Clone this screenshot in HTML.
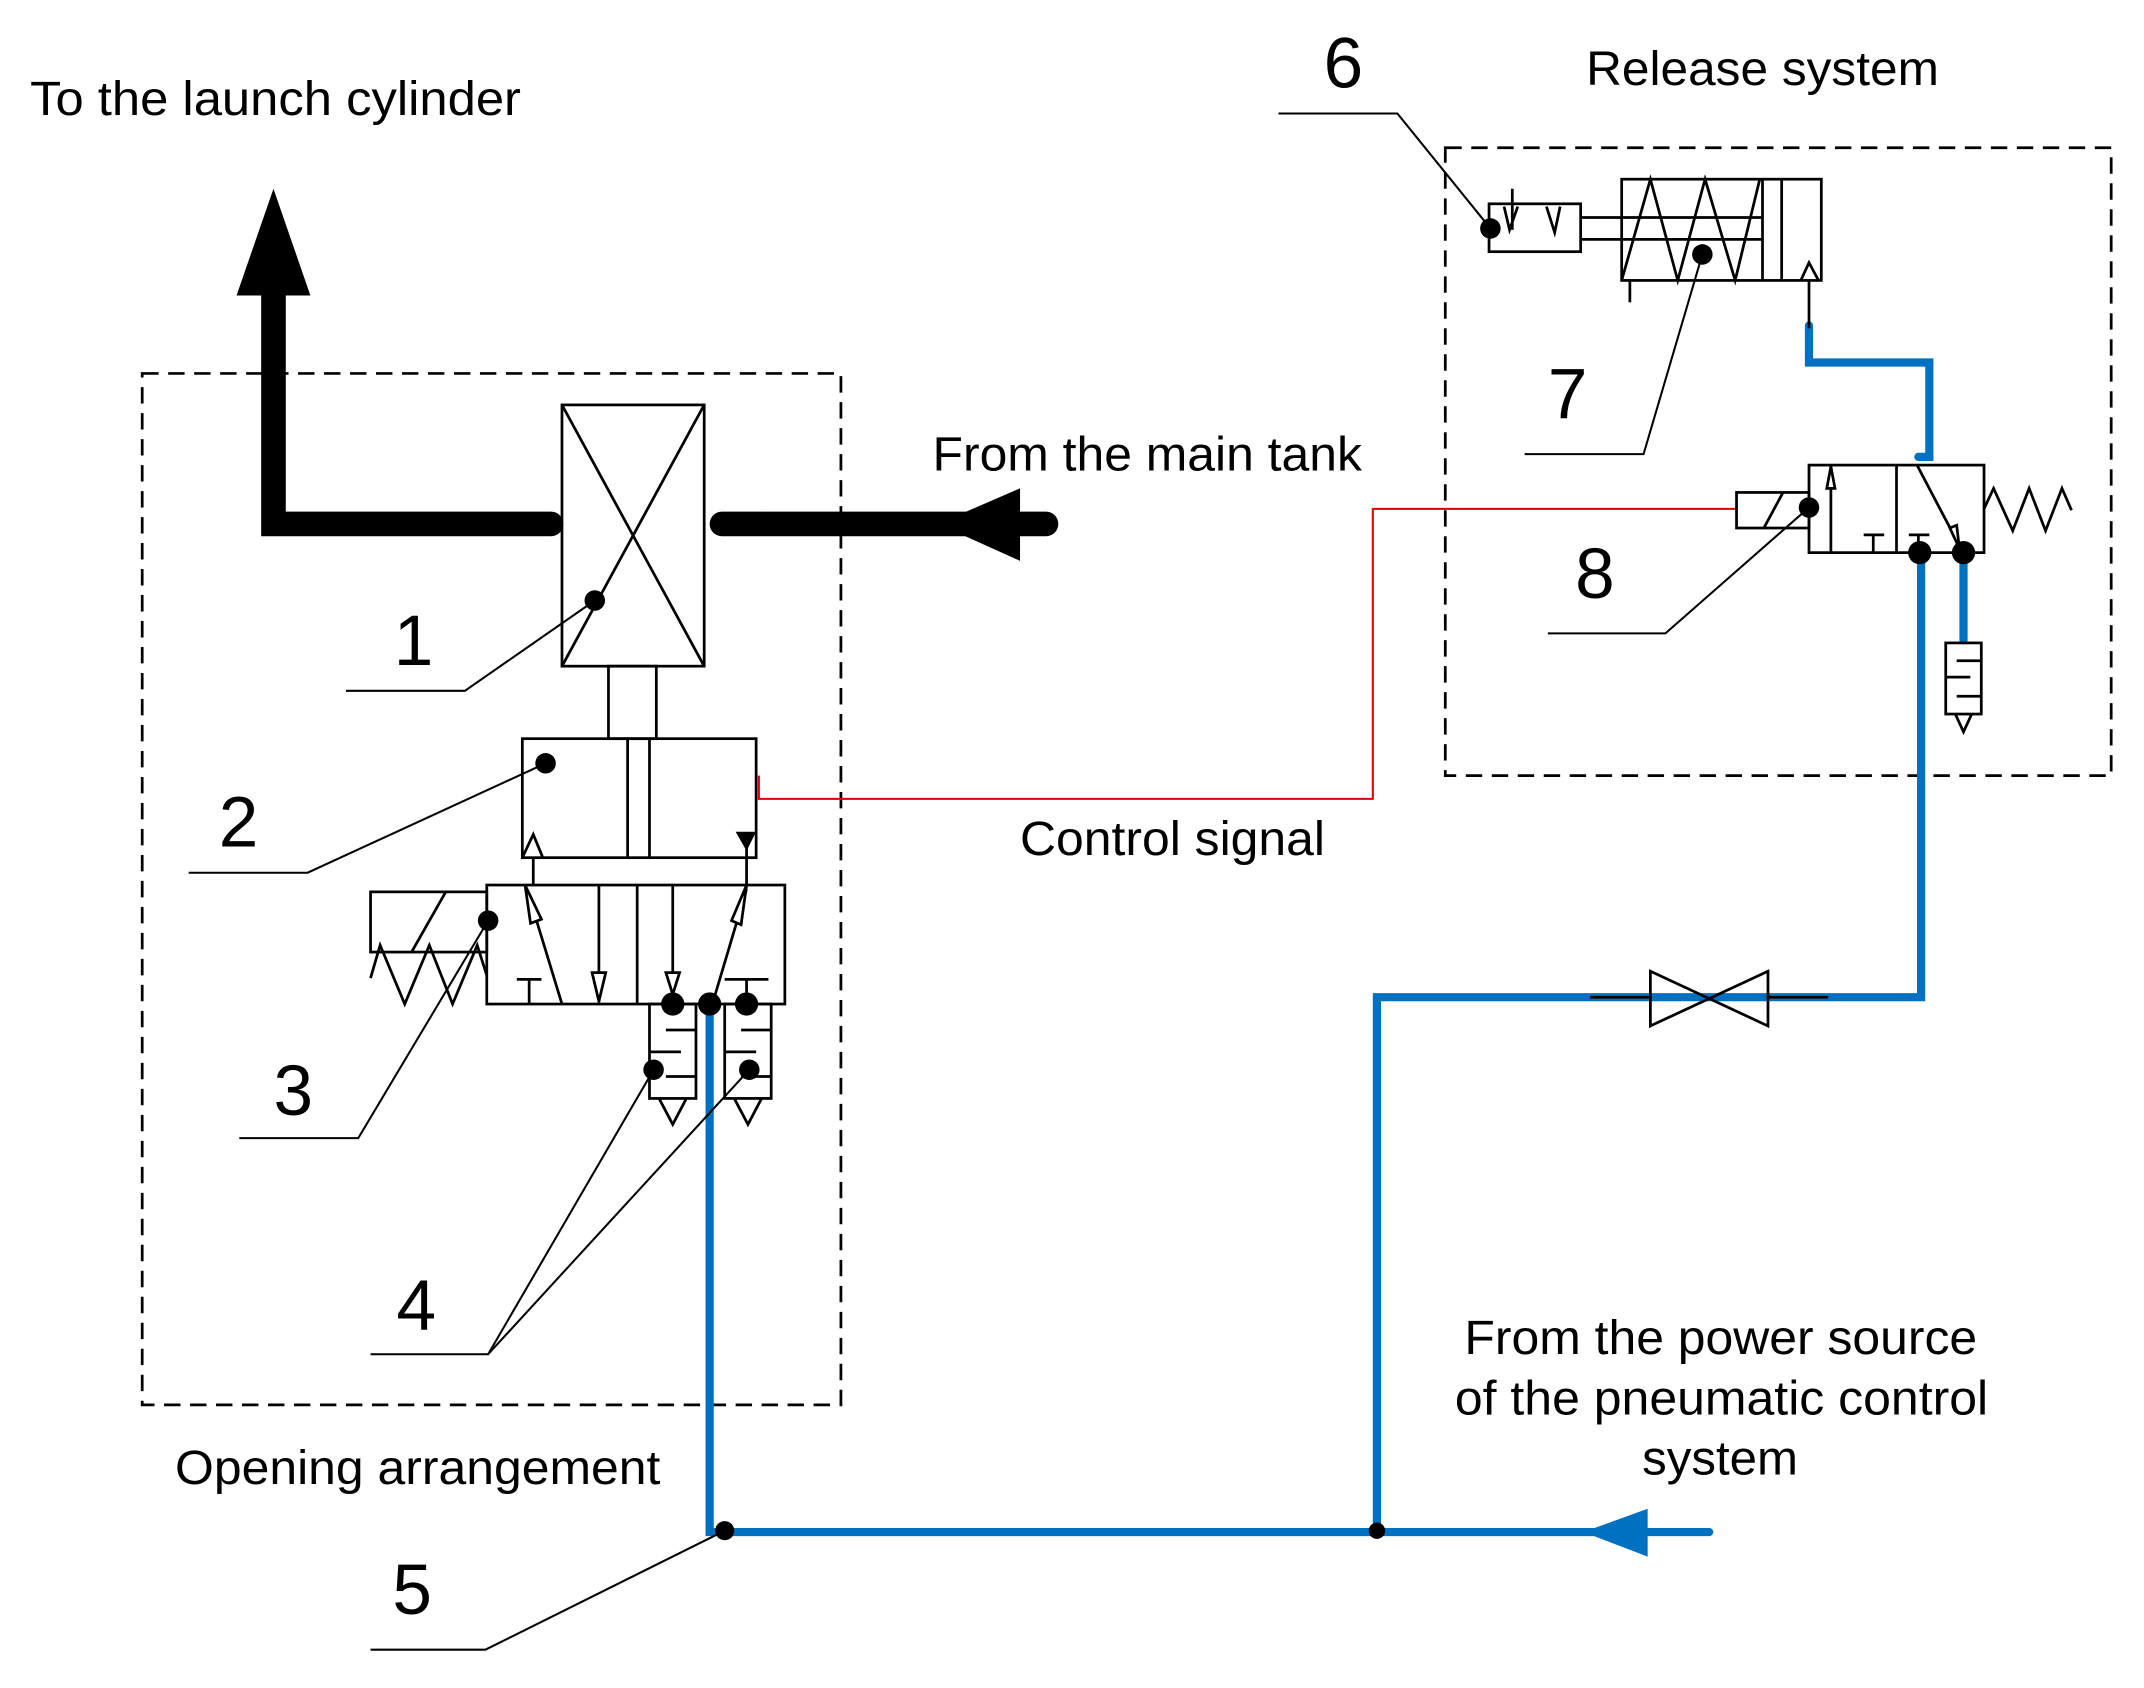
<!DOCTYPE html>
<html><head><style>html,body{margin:0;padding:0;background:#fff}svg{display:block}text{font-family:"Liberation Sans",Arial,sans-serif;fill:#000}</style></head>
<body>
<svg width="2144" height="1688" viewBox="0 0 1568 1234" preserveAspectRatio="none" xmlns="http://www.w3.org/2000/svg">
<g fill="none" stroke="#000" stroke-width="2">
<rect x="104" y="273" width="511" height="754" stroke-dasharray="12,7"/>
<rect x="1057" y="108" width="487" height="459" stroke-dasharray="12,7"/>
</g>
<g stroke="#000" stroke-width="18" stroke-linecap="round" fill="none">
<polyline points="200,205 200,383 403,383"/>
<line x1="528" y1="383" x2="765" y2="383"/>
</g>
<polygon points="200,138 173,216 227,216" fill="#000"/>
<polygon points="686,383 746,357 746,410" fill="#000"/>
<polyline points="555,567 555,584 1004,584 1004,372 1270,372" fill="none" stroke="#e00000" stroke-width="1.5"/>
<g stroke="#0070c0" stroke-width="6" fill="none" stroke-linecap="round">
<polyline points="519,740 519,1120 1250,1120"/>
<polyline points="1007,1120 1007,729 1405,729 1405,404"/>
<polyline points="1323,238 1323,265 1411,265 1411,334 1403,334"/>
<polyline points="1436,404 1436,468"/>
</g>
<polygon points="1158,1120 1205,1103 1205,1138" fill="#0070c0"/>
<g fill="none" stroke="#000" stroke-width="2">
<!-- 1 -->
<rect x="411" y="296" width="104" height="191"/>
<line x1="411" y1="296" x2="515" y2="487"/><line x1="515" y1="296" x2="411" y2="487"/>
<rect x="445" y="487" width="35" height="53"/>
<!-- 2 -->
<rect x="382" y="540" width="171" height="87"/>
<line x1="459" y1="540" x2="459" y2="627"/><line x1="475" y1="540" x2="475" y2="627"/>
<polyline points="382,627 390,610 397,627"/>
<line x1="390" y1="627" x2="390" y2="647"/><line x1="546" y1="620" x2="546" y2="647"/>
<!-- 3 -->
<rect x="356" y="647" width="218" height="87"/>
<line x1="466" y1="647" x2="466" y2="734"/>
<rect x="271" y="652" width="85" height="44"/>
<line x1="301" y1="696" x2="326" y2="652"/>
<polyline points="271,715 278,691 296,734 314,691 331,734 349,691 356,713"/>
<line x1="386" y1="652" x2="411" y2="734"/>
<polygon points="384,647 396,672 388,675" fill="#fff"/>
<line x1="378" y1="716" x2="396" y2="716"/><line x1="387" y1="716" x2="387" y2="734"/>
<line x1="438" y1="647" x2="438" y2="733"/>
<polygon points="433,711 443,711 438,732" fill="#fff"/>
<line x1="492" y1="647" x2="492" y2="726"/>
<polygon points="487,711 497,711 492,727" fill="#fff"/>
<line x1="546" y1="650" x2="521" y2="734"/>
<polygon points="546,647 542,676 535,673" fill="#fff"/>
<line x1="530" y1="716" x2="562" y2="716"/><line x1="546" y1="716" x2="546" y2="730"/>
<!-- exhausts -->
<rect x="475" y="734" width="34" height="69"/>
<rect x="530" y="734" width="34" height="69"/>
<line x1="487" y1="753" x2="509" y2="753"/><line x1="475" y1="769" x2="498" y2="769"/><line x1="487" y1="787" x2="509" y2="787"/>
<line x1="542" y1="753" x2="564" y2="753"/><line x1="530" y1="769" x2="553" y2="769"/><line x1="542" y1="787" x2="564" y2="787"/>
<polyline points="482,803 492,822 502,803"/><polyline points="537,803 547,822 557,803"/>
<!-- bowtie -->
<polygon points="1207,710 1293,750 1293,710 1207,750"/>
<line x1="1163" y1="729" x2="1207" y2="729"/><line x1="1293" y1="729" x2="1337" y2="729"/>
<!-- 6/7 -->
<rect x="1089" y="149" width="67" height="35"/>
<line x1="1106" y1="138" x2="1106" y2="168"/>
<polyline points="1100,151 1104,168 1110,151"/>
<polyline points="1131,151 1137,170 1141,151"/>
<rect x="1186" y="131" width="146" height="74"/>
<line x1="1156" y1="159" x2="1289" y2="159"/><line x1="1156" y1="175" x2="1289" y2="175"/>
<line x1="1289" y1="131" x2="1289" y2="205"/><line x1="1303" y1="131" x2="1303" y2="205"/>
<polyline points="1186,205 1207,131 1227,205 1247,131 1269,205 1287,131"/>
<polyline points="1317,205 1323,192 1330,205"/>
<line x1="1323" y1="205" x2="1323" y2="240"/>
<line x1="1192" y1="205" x2="1192" y2="221"/>
<!-- 8 -->
<rect x="1323" y="340" width="128" height="64"/>
<line x1="1387" y1="340" x2="1387" y2="404"/>
<line x1="1339" y1="340" x2="1339" y2="404"/>
<polygon points="1339,341 1336,357 1342,357" fill="#fff"/>
<rect x="1270" y="360" width="53" height="26"/>
<line x1="1290" y1="386" x2="1304" y2="360"/>
<polyline points="1451,372 1458,357 1472,388 1484,357 1496,388 1508,357 1515,373"/>
<line x1="1363" y1="391" x2="1378" y2="391"/><line x1="1370" y1="391" x2="1370" y2="404"/>
<line x1="1396" y1="391" x2="1411" y2="391"/><line x1="1403" y1="391" x2="1403" y2="404"/>
<line x1="1402" y1="340" x2="1433" y2="399"/>
<polygon points="1433,401 1426,386 1431,384" fill="#fff"/>
<rect x="1423" y="470" width="26" height="52"/>
<line x1="1431" y1="483" x2="1449" y2="483"/><line x1="1423" y1="495" x2="1441" y2="495"/><line x1="1431" y1="509" x2="1449" y2="509"/>
<polyline points="1430,522 1436,535 1442,522"/>
</g>
<polygon points="538,608 553,608 546,622" fill="#000"/>
<g stroke="#000" stroke-width="1.5" fill="none">
<polyline points="253,505 340,505 435,439"/>
<polyline points="138,638 225,638 399,558"/>
<polyline points="175,832 262,832 357,673"/>
<polyline points="271,990 357,990 478,782"/>
<line x1="357" y1="990" x2="548" y2="782"/>
<polyline points="271,1206 355,1206 530,1119"/>
<polyline points="935,83 1022,83 1090,167"/>
<polyline points="1115,332 1202,332 1245,186"/>
<polyline points="1132,463 1218,463 1323,371"/>
</g>
<g fill="#000">
<circle cx="435" cy="439" r="7.5"/><circle cx="399" cy="558" r="7.5"/><circle cx="357" cy="673" r="7.5"/>
<circle cx="492" cy="734" r="8.5"/><circle cx="519" cy="734" r="8.5"/><circle cx="546" cy="734" r="8.5"/>
<circle cx="478" cy="782" r="7.5"/><circle cx="548" cy="782" r="7.5"/>
<circle cx="530" cy="1119" r="7"/><circle cx="1007" cy="1119" r="6"/>
<circle cx="1090" cy="167" r="7.5"/><circle cx="1245" cy="186" r="7.5"/><circle cx="1323" cy="371" r="7.5"/>
<circle cx="1404" cy="404" r="8.5"/><circle cx="1436" cy="404" r="8.5"/>
</g>
<g font-size="35">
<text x="22" y="84" textLength="359" lengthAdjust="spacingAndGlyphs">To the launch cylinder</text>
<text x="682" y="344" textLength="314" lengthAdjust="spacingAndGlyphs">From the main tank</text>
<text x="746" y="625" textLength="223" lengthAdjust="spacingAndGlyphs">Control signal</text>
<text x="1160" y="62" textLength="258" lengthAdjust="spacingAndGlyphs">Release system</text>
<text x="128" y="1085" textLength="355" lengthAdjust="spacingAndGlyphs">Opening arrangement</text>
<text x="1071" y="990" textLength="375" lengthAdjust="spacingAndGlyphs">From the power source</text>
<text x="1064" y="1034" textLength="390" lengthAdjust="spacingAndGlyphs">of the pneumatic control</text>
<text x="1201" y="1078" textLength="114" lengthAdjust="spacingAndGlyphs">system</text>
</g>
<g font-size="52">
<text x="288" y="486">1</text><text x="160" y="619">2</text><text x="200" y="815">3</text>
<text x="290" y="972">4</text><text x="287" y="1180">5</text><text x="968" y="64">6</text>
<text x="1132" y="306">7</text><text x="1152" y="437">8</text>
</g>
</svg>
</body></html>
